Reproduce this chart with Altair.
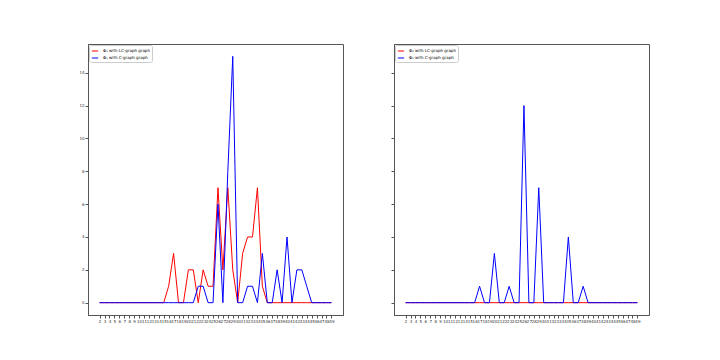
import altair as alt
import pandas as pd

x_vals = [2, 3, 4, 5, 6, 7, 8, 9, 10, 11, 12, 13, 14, 15, 16, 17, 18, 19, 20, 21,
          22, 23, 24, 25, 26, 27, 28, 29, 30, 31, 32, 33, 34, 35, 36, 37, 38, 39, 40, 41,
          42, 43, 44, 45, 46, 47, 48, 49]

# left panel
left_lc = [0, 0, 0, 0, 0, 0, 0, 0, 0, 0, 0, 0, 0, 0, 1, 3, 0, 0, 2, 2,
           0, 2, 1, 1, 7, 2, 7, 2, 0, 3, 4, 4, 7, 1, 0, 0, 0, 0, 0, 0,
           0, 0, 0, 0, 0, 0, 0, 0]
left_c = [0, 0, 0, 0, 0, 0, 0, 0, 0, 0, 0, 0, 0, 0, 0, 0, 0, 0, 0, 0,
          1, 1, 0, 0, 6, 0, 8, 15, 0, 0, 1, 1, 0, 3, 0, 0, 2, 0, 4, 0,
          2, 2, 1, 0, 0, 0, 0, 0]
# right panel
right_lc = [0, 0, 0, 0, 0, 0, 0, 0, 0, 0, 0, 0, 0, 0, 0, 0, 0, 0, 0, 0,
            0, 0, 0, 0, 0, 0, 0, 0, 0, 0, 0, 0, 0, 0, 0, 0, 0, 0, 0, 0,
            0, 0, 0, 0, 0, 0, 0, 0]
right_c = [0, 0, 0, 0, 0, 0, 0, 0, 0, 0, 0, 0, 0, 0, 0, 1, 0, 0, 3, 0,
           0, 1, 0, 0, 12, 0, 0, 7, 0, 0, 0, 0, 0, 4, 0, 0, 1, 0, 0, 0,
           0, 0, 0, 0, 0, 0, 0, 0]

left_names = ["Φ₁ with LC-graph graph", "Φ₁ with C-graph graph"]
right_names = ["Φ₂ with LC-graph graph", "Φ₂ with C-graph graph"]
y_ticks = [0, 2, 4, 6, 8, 10, 12, 14]

FONT = "DejaVu Sans"
W, H = 255, 271


def panel(lc, c, names, show_y_labels):
    df_lc = pd.DataFrame({"x": x_vals, "v": lc, "s": names[0]})
    df_c = pd.DataFrame({"x": x_vals, "v": c, "s": names[1]})
    color = alt.Color(
        "s:N",
        scale=alt.Scale(domain=names, range=["#ff0000", "#0000ff"]),
        legend=alt.Legend(
            title=None, orient="top-left", offset=1,
            labelFontSize=4, labelFont=FONT, symbolType="stroke",
            symbolSize=40, symbolStrokeWidth=1, rowPadding=1,
            padding=2, fillColor="white", strokeColor="#cccccc",
            cornerRadius=2, labelLimit=200,
        ),
    )
    xenc = alt.X(
        "x:Q",
        scale=alt.Scale(domain=[-0.35, 51.35], nice=False, zero=False),
        axis=alt.Axis(values=x_vals, title=None, labelFontSize=4, labelFont=FONT,
                      labelOverlap=False, labelFlush=False, grid=False, tickSize=3,
                      labelPadding=1, domainColor="#555", tickColor="#555",
                      labelColor="#333", format="d"),
    )
    yenc = alt.Y(
        "v:Q",
        scale=alt.Scale(domain=[-0.75, 15.75], nice=False, zero=False),
        axis=alt.Axis(values=y_ticks, title=None, labelFontSize=4, labelFont=FONT,
                      labels=show_y_labels, grid=False, tickSize=3, labelPadding=1,
                      domainColor="#555", tickColor="#555", labelColor="#333",
                      format="d"),
    )
    red = alt.Chart(df_lc).mark_line(strokeWidth=1).encode(x=xenc, y=yenc, color=color)
    blue = alt.Chart(df_c).mark_line(strokeWidth=1).encode(x=xenc, y=yenc, color=color)
    return alt.layer(red, blue).properties(width=W, height=H)


left = panel(left_lc, left_c, left_names, True)
right = panel(right_lc, right_c, right_names, False)

chart = (
    alt.hconcat(left, right, spacing=46)
    .resolve_scale(color="independent")
    .properties(padding={"left": 70, "top": 35, "right": 0, "bottom": 0}, background="white")
    .configure_view(stroke="#555", strokeWidth=1)
)

chart.save("out.html", embed_options={"renderer": "svg", "actions": False})
